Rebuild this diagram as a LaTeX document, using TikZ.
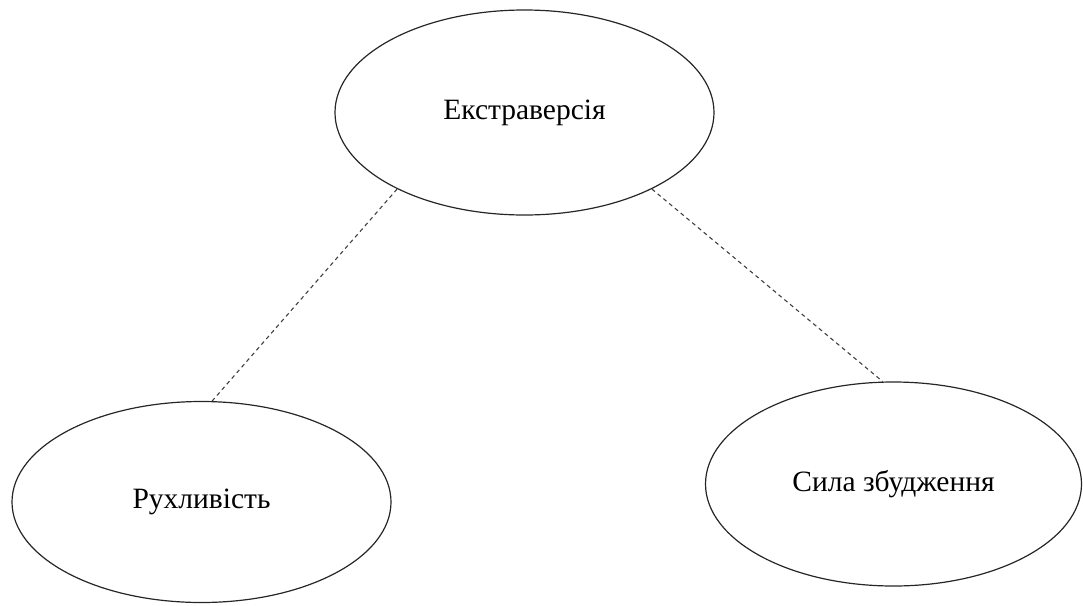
\documentclass[tikz,border=0pt]{standalone}
\usepackage{fontspec}
\setmainfont{Liberation Serif}
\usetikzlibrary{shapes.geometric}
\begin{document}
\begin{tikzpicture}[x=1pt,y=-1pt,
  oval/.style={draw=black!85, line width=1.2pt, ellipse, inner sep=0pt, font=\fontsize{29.5}{32}\selectfont},
  link/.style={draw=black!75, line width=1.1pt, dash pattern=on 4pt off 3.5pt}]
\useasboundingbox (0,0) rectangle (1083,605);
\node[oval, minimum width=379pt, minimum height=205pt] (top) at (524.5,112.5) {Екстраверсія};
\node[oval, minimum width=379pt, minimum height=201pt] (left) at (201.5,502) {Рухливість};
\node[oval, minimum width=376pt, minimum height=204pt] (right) at (893.5,484) {Сила збудження};
\draw[link] (top.211) -- (left.84);
\draw[link] (top.329) -- (right.96);
\end{tikzpicture}
\end{document}
